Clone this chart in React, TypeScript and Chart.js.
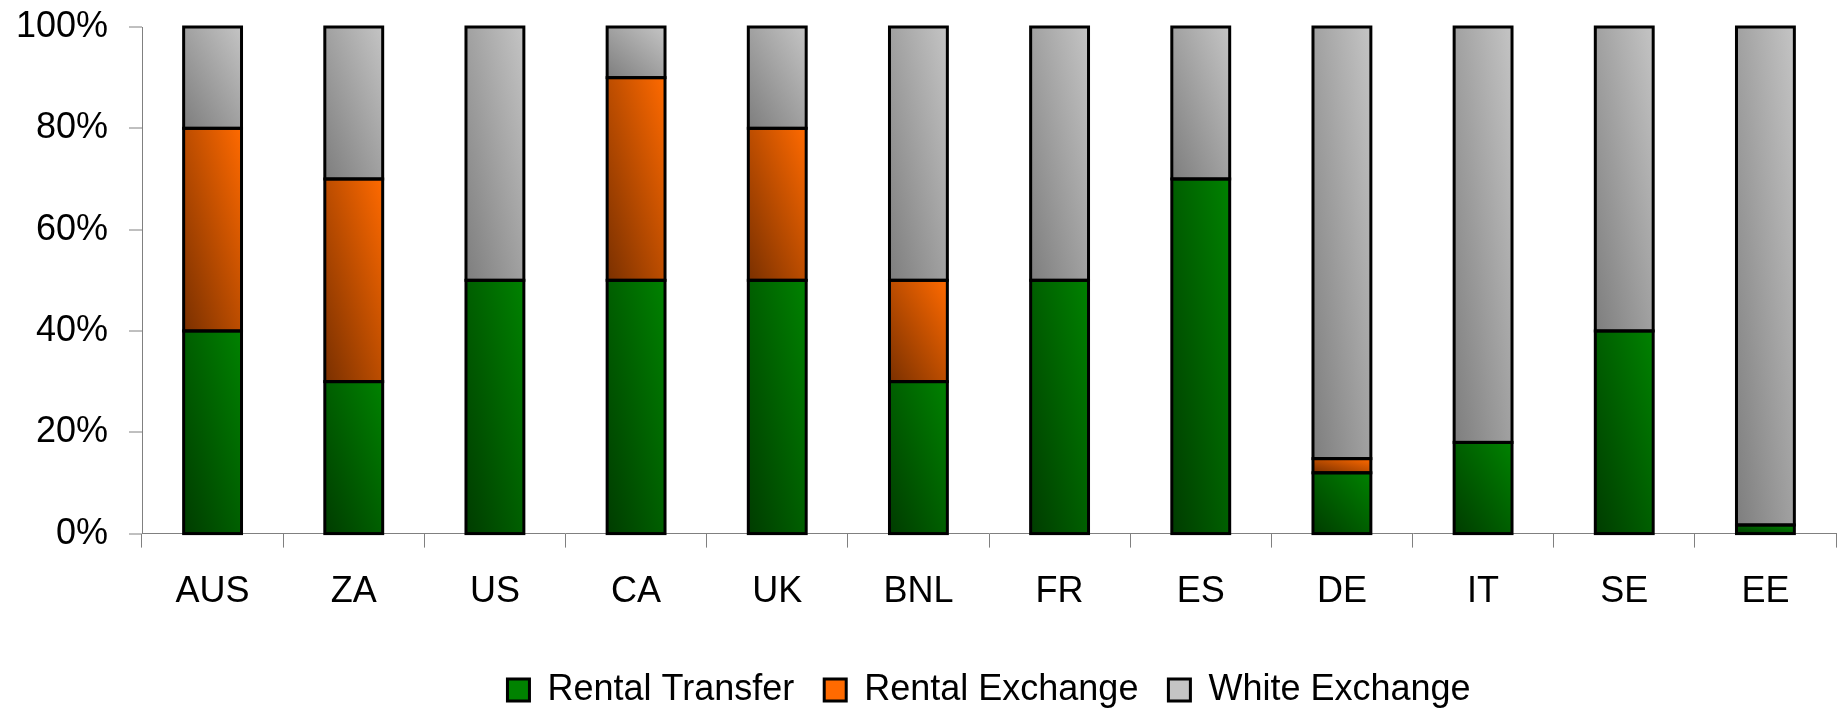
import React, { useEffect, useRef } from "react";
import { Chart, registerables } from "chart.js";

Chart.register(...registerables);

const categories = ["AUS", "ZA", "US", "CA", "UK", "BNL", "FR", "ES", "DE", "IT", "SE", "EE"];
const rentalTransfer = [40, 30, 50, 50, 50, 30, 50, 70, 12, 18, 40, 1.7];
const rentalExchange = [40, 40, 0, 40, 30, 20, 0, 0, 2.8, 0, 0, 0];
const whiteExchange = [20, 30, 50, 10, 20, 50, 50, 30, 85.2, 82, 60, 98.3];
const seriesNames = ["Rental Transfer", "Rental Exchange", "White Exchange"];
const yTickValues = [0, 20, 40, 60, 80, 100];

const allSeries = [rentalTransfer, rentalExchange, whiteExchange];
const darkColors = ["#003c00", "#7a3000", "#7e7e7e"];
const brightColors = ["#008200", "#ff6a00", "#c4c4c4"];
const midColors = ["#006000", "#d05000", "#a8a8a8"];
const BAR_PCT = 0.41;
const OUTLINE = 3;
const FONT = "'Liberation Sans', Arial, Helvetica, sans-serif";

function makeFill(ds: number) {
  return (ctx: any) => {
    const chart = ctx.chart;
    if (ctx.type !== "data" || !chart.chartArea) return midColors[ds];
    const xs = chart.scales.x;
    const ys = chart.scales.y;
    const i = ctx.dataIndex;
    let start = 0;
    for (let k = 0; k < ds; k++) start += allSeries[k][i] || 0;
    const end = start + (allSeries[ds][i] || 0);
    const xc = xs.getPixelForValue(i);
    const w = (xs.width / categories.length) * BAR_PCT;
    const x0 = xc - w / 2;
    const yBot = ys.getPixelForValue(start);
    const yTop = ys.getPixelForValue(end);
    const h = yBot - yTop;
    if (h <= 0.5) return brightColors[ds];
    const k = (2 * w * h) / (w * w + h * h);
    const g = chart.ctx.createLinearGradient(x0, yBot, x0 + h * k, yBot - w * k);
    g.addColorStop(0, darkColors[ds]);
    g.addColorStop(1, brightColors[ds]);
    return g;
  };
}

const outlinePlugin = {
  id: "barOutline",
  afterDatasetsDraw(chart: any) {
    const ctx = chart.ctx;
    ctx.save();
    ctx.strokeStyle = "#000000";
    ctx.lineWidth = OUTLINE;
    ctx.lineJoin = "miter";
    chart.data.datasets.forEach((dset: any, di: number) => {
      const meta = chart.getDatasetMeta(di);
      meta.data.forEach((el: any, i: number) => {
        if (dset.data[i] == null) return;
        const { x, y, base, width } = el.getProps(["x", "y", "base", "width"], true);
        ctx.strokeRect(x - width / 2, Math.min(y, base), width, Math.abs(base - y));
      });
    });
    ctx.restore();
  },
};

export default function App() {
  const ref = useRef<HTMLCanvasElement | null>(null);
  useEffect(() => {
    if (!ref.current) return;
    const chart = new Chart(ref.current, {
      type: "bar",
      data: {
        labels: categories,
        datasets: allSeries.map((s, d) => ({
          label: seriesNames[d],
          data: s.map((v) => (v ? v : null)),
          backgroundColor: makeFill(d),
          borderColor: "#000000",
          borderWidth: 0,
          borderSkipped: false,
          inflateAmount: 0,
          barPercentage: BAR_PCT,
          categoryPercentage: 1,
        })),
      },
      plugins: [outlinePlugin],
      options: {
        responsive: false,
        animation: false,
        devicePixelRatio: 1,
        layout: { padding: { top: 27, left: 16, right: 4, bottom: -6 } },
        plugins: {
          tooltip: { enabled: false },
          legend: {
            position: "bottom",
            fullSize: false,
            labels: {
              boxWidth: 22,
              boxHeight: 22,
              padding: 30,
              color: "#000000",
              font: { family: FONT, size: 36 },
              generateLabels: (c: any) => {
                const items = (Chart.defaults.plugins.legend.labels as any).generateLabels(c);
                items.forEach((it: any) => {
                  it.lineWidth = 3;
                  it.strokeStyle = "#000000";
                });
                return items;
              },
            },
          },
        },
        scales: {
          x: {
            stacked: true,
            grid: {
              display: true,
              drawOnChartArea: false,
              drawTicks: true,
              tickLength: 14,
              lineWidth: 1,
              tickWidth: 1,
              color: "#808080",
              tickColor: "#808080",
              offset: true,
            },
            border: { display: true, color: "#808080", width: 1 },
            ticks: {
              color: "#000000",
              padding: 23,
              maxRotation: 0,
              autoSkip: false,
              font: { family: FONT, size: 36 },
            },
            title: {
              display: true,
              text: "",
              font: { size: 1 },
              padding: { top: 0, bottom: 4 },
            },
          },
          y: {
            stacked: true,
            min: 0,
            max: 100,
            afterBuildTicks: (scale: any) => {
              scale.ticks = yTickValues.map((v) => ({ value: v }));
            },
            afterFit: (scale: any) => {
              scale.width = 126;
              scale.paddingTop = 0;
              scale.paddingBottom = 0;
            },
            grid: {
              display: true,
              drawOnChartArea: false,
              drawTicks: true,
              tickLength: 13,
              lineWidth: 0,
              tickWidth: 1,
              color: "#808080",
              tickColor: "#808080",
            },
            border: { display: true, color: "#808080", width: 1 },
            ticks: {
              color: "#000000",
              padding: 21,
              font: { family: FONT, size: 36 },
              callback: (v: any) => `${v}%`,
            },
          },
        },
      },
    });
    return () => chart.destroy();
  }, []);
  return (
    <div style={{ position: "fixed", left: 0, top: 0, width: 1840, height: 712, background: "#ffffff" }}>
      <canvas ref={ref} width={1840} height={712} style={{ display: "block" }} />
    </div>
  );
}
